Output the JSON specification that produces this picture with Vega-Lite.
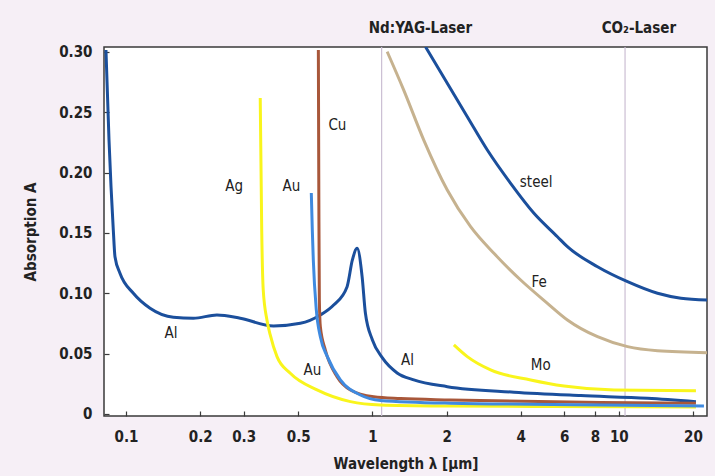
{
  "$schema": "https://vega.github.io/schema/vega-lite/v6.json",
  "width": 603,
  "height": 369,
  "autosize": {"type": "none"},
  "padding": {"left": 104, "top": 47, "right": 8, "bottom": 60},
  "background": "#f6eff6",
  "config": {
    "font": "DejaVu Sans Condensed",
    "view": {"fill": "white", "stroke": "#3a3a3a", "strokeWidth": 1.5},
    "axis": {"domain": false, "grid": false, "tickColor": "#3a3a3a", "tickWidth": 1.2, "labelColor": "#222", "titleColor": "#222", "labelFont": "DejaVu Sans Condensed", "titleFont": "DejaVu Sans Condensed"}
  },
  "datasets": {
    "curves": [
      {"s": "Al", "x": 0.0829, "y": 0.3016},
      {"s": "Al", "x": 0.0853, "y": 0.227},
      {"s": "Al", "x": 0.0888, "y": 0.1524},
      {"s": "Al", "x": 0.0902, "y": 0.1303},
      {"s": "Al", "x": 0.0945, "y": 0.1166},
      {"s": "Al", "x": 0.1071, "y": 0.1},
      {"s": "Al", "x": 0.1252, "y": 0.0876},
      {"s": "Al", "x": 0.1557, "y": 0.0801},
      {"s": "Al", "x": 0.1877, "y": 0.0793},
      {"s": "Al", "x": 0.2338, "y": 0.082},
      {"s": "Al", "x": 0.2907, "y": 0.0793},
      {"s": "Al", "x": 0.397, "y": 0.0729},
      {"s": "Al", "x": 0.5097, "y": 0.0751},
      {"s": "Al", "x": 0.6145, "y": 0.082},
      {"s": "Al", "x": 0.6961, "y": 0.0903},
      {"s": "Al", "x": 0.7893, "y": 0.1055},
      {"s": "Al", "x": 0.8292, "y": 0.1276},
      {"s": "Al", "x": 0.8667, "y": 0.1373},
      {"s": "Al", "x": 0.9082, "y": 0.1138},
      {"s": "Al", "x": 0.9367, "y": 0.0834},
      {"s": "Al", "x": 1.0, "y": 0.0613},
      {"s": "Al", "x": 1.098, "y": 0.0464},
      {"s": "Al", "x": 1.26, "y": 0.034},
      {"s": "Al", "x": 1.472, "y": 0.0282},
      {"s": "Al", "x": 2.013, "y": 0.0226},
      {"s": "Al", "x": 3.753, "y": 0.018},
      {"s": "Al", "x": 7.005, "y": 0.0152},
      {"s": "Al", "x": 13.08, "y": 0.013},
      {"s": "Al", "x": 20.56, "y": 0.0102},
      {"s": "Ag", "x": 0.3505, "y": 0.2618},
      {"s": "Ag", "x": 0.3554, "y": 0.1524},
      {"s": "Ag", "x": 0.3605, "y": 0.1027},
      {"s": "Ag", "x": 0.3732, "y": 0.0779},
      {"s": "Ag", "x": 0.3849, "y": 0.0655},
      {"s": "Ag", "x": 0.41, "y": 0.0475},
      {"s": "Ag", "x": 0.4642, "y": 0.0337},
      {"s": "Ag", "x": 0.5961, "y": 0.0199},
      {"s": "Ag", "x": 0.8143, "y": 0.0102},
      {"s": "Ag", "x": 1.078, "y": 0.0075},
      {"s": "Ag", "x": 2.075, "y": 0.0066},
      {"s": "Ag", "x": 5.29, "y": 0.0062},
      {"s": "Ag", "x": 20.56, "y": 0.0058},
      {"s": "Cu", "x": 0.6034, "y": 0.3016},
      {"s": "Cu", "x": 0.6062, "y": 0.1773},
      {"s": "Cu", "x": 0.609, "y": 0.0944},
      {"s": "Cu", "x": 0.6147, "y": 0.0723},
      {"s": "Cu", "x": 0.6441, "y": 0.053},
      {"s": "Cu", "x": 0.7185, "y": 0.0309},
      {"s": "Cu", "x": 0.8143, "y": 0.0199},
      {"s": "Cu", "x": 1.012, "y": 0.0143},
      {"s": "Cu", "x": 1.3, "y": 0.0128},
      {"s": "Cu", "x": 2.075, "y": 0.0116},
      {"s": "Cu", "x": 8.45, "y": 0.0094},
      {"s": "Cu", "x": 20.56, "y": 0.0089},
      {"s": "Au", "x": 0.5649, "y": 0.1831},
      {"s": "Au", "x": 0.5702, "y": 0.1524},
      {"s": "Au", "x": 0.5756, "y": 0.1276},
      {"s": "Au", "x": 0.592, "y": 0.0862},
      {"s": "Au", "x": 0.6147, "y": 0.064},
      {"s": "Au", "x": 0.6562, "y": 0.0475},
      {"s": "Au", "x": 0.7413, "y": 0.0282},
      {"s": "Au", "x": 0.8938, "y": 0.0157},
      {"s": "Au", "x": 1.078, "y": 0.0112},
      {"s": "Au", "x": 2.075, "y": 0.0089},
      {"s": "Au", "x": 8.45, "y": 0.0075},
      {"s": "Au", "x": 22.16, "y": 0.0066},
      {"s": "steel", "x": 1.642, "y": 0.3043},
      {"s": "steel", "x": 2.013, "y": 0.274},
      {"s": "steel", "x": 2.427, "y": 0.2463},
      {"s": "steel", "x": 2.927, "y": 0.2187},
      {"s": "steel", "x": 3.639, "y": 0.1911},
      {"s": "steel", "x": 4.525, "y": 0.1663},
      {"s": "steel", "x": 5.634, "y": 0.1469},
      {"s": "steel", "x": 6.187, "y": 0.1386},
      {"s": "steel", "x": 8.195, "y": 0.122},
      {"s": "steel", "x": 10.85, "y": 0.1096},
      {"s": "steel", "x": 14.36, "y": 0.1},
      {"s": "steel", "x": 17.87, "y": 0.0959},
      {"s": "steel", "x": 22.94, "y": 0.0944},
      {"s": "Fe", "x": 1.148, "y": 0.3002},
      {"s": "Fe", "x": 1.34, "y": 0.2684},
      {"s": "Fe", "x": 1.616, "y": 0.227},
      {"s": "Fe", "x": 2.013, "y": 0.1856},
      {"s": "Fe", "x": 2.503, "y": 0.1552},
      {"s": "Fe", "x": 3.112, "y": 0.1331},
      {"s": "Fe", "x": 3.997, "y": 0.111},
      {"s": "Fe", "x": 5.132, "y": 0.0917},
      {"s": "Fe", "x": 6.187, "y": 0.0779},
      {"s": "Fe", "x": 8.195, "y": 0.064},
      {"s": "Fe", "x": 10.85, "y": 0.0558},
      {"s": "Fe", "x": 14.36, "y": 0.0524},
      {"s": "Fe", "x": 22.94, "y": 0.0508},
      {"s": "Mo", "x": 2.141, "y": 0.0572},
      {"s": "Mo", "x": 2.427, "y": 0.0475},
      {"s": "Mo", "x": 3.017, "y": 0.0365},
      {"s": "Mo", "x": 4.389, "y": 0.0282},
      {"s": "Mo", "x": 5.993, "y": 0.0232},
      {"s": "Mo", "x": 9.571, "y": 0.0199},
      {"s": "Mo", "x": 20.56, "y": 0.0193}
    ],
    "lasers": [
      {"x": 1.09, "name": "Nd:YAG-Laser", "lx": 1.567},
      {"x": 10.6, "name": "CO₂-Laser", "lx": 12.06}
    ],
    "labels": [
      {"t": "Cu", "x": 0.7207, "y": 0.2394},
      {"t": "Ag", "x": 0.2748, "y": 0.1889},
      {"t": "Au", "x": 0.4686, "y": 0.1889},
      {"t": "Al", "x": 0.1524, "y": 0.0671},
      {"t": "Au", "x": 0.5704, "y": 0.0365},
      {"t": "Al", "x": 1.388, "y": 0.0447},
      {"t": "steel", "x": 4.62, "y": 0.192},
      {"t": "Fe", "x": 4.75, "y": 0.109},
      {"t": "Mo", "x": 4.819, "y": 0.0406}
    ]
  },
  "layer": [
    {
      "data": {"name": "lasers"},
      "mark": {"type": "rule", "color": "#cbbed3", "strokeWidth": 1.2},
      "encoding": {
        "x": {"field": "x", "type": "quantitative", "scale": {"type": "log", "domain": [0.0814, 22.8], "nice": false}}
      }
    },
    {
      "data": {"name": "lasers"},
      "mark": {"type": "text", "fontSize": 15, "fontWeight": "bold", "color": "#222", "baseline": "middle", "align": "center"},
      "encoding": {
        "x": {"field": "lx", "type": "quantitative"},
        "y": {"datum": 0.3198, "type": "quantitative"},
        "text": {"field": "name"}
      }
    },
    {
      "data": {"name": "curves"},
      "mark": {"type": "line", "clip": true, "interpolate": "monotone"},
      "encoding": {
        "x": {"field": "x", "type": "quantitative", "scale": {"type": "log", "domain": [0.0814, 22.8], "nice": false},
          "axis": {"values": [0.1, 0.2, 0.3, 0.5, 1, 2, 4, 6, 8, 10, 20], "labelExpr": "datum.value", "tickSize": -5, "labelPadding": 18, "labelFontSize": 15, "labelFontWeight": "bold", "title": "Wavelength  λ [µm]", "titleFontSize": 15, "titleFontWeight": "bold", "titlePadding": 12}},
        "y": {"field": "y", "type": "quantitative", "scale": {"domain": [-0.0017, 0.3041], "nice": false, "zero": false},
          "axis": {"values": [0, 0.05, 0.1, 0.15, 0.2, 0.25, 0.3], "labelExpr": "datum.value == 0 ? '0' : format(datum.value, '.2f')", "tickSize": -5, "labelPadding": 17, "labelFontSize": 15, "labelFontWeight": "bold", "title": "Absorption A", "titleFontSize": 15, "titleFontWeight": "bold", "titlePadding": 20}},
        "color": {"field": "s", "type": "nominal", "legend": null,
          "scale": {"domain": ["Al", "steel", "Ag", "Mo", "Cu", "Au", "Fe"], "range": ["#1b4f9c", "#1b4f9c", "#f9f51c", "#f9f51c", "#a8573a", "#3f8ae0", "#c6b28f"]}},
        "strokeWidth": {"field": "s", "type": "nominal", "legend": null,
          "scale": {"domain": ["Al", "steel", "Ag", "Mo", "Cu", "Au", "Fe"], "range": [3, 3, 2.8, 2.8, 2.6, 2.6, 2]}}
      }
    },
    {
      "data": {"name": "labels"},
      "mark": {"type": "text", "fontSize": 15, "color": "#222", "baseline": "middle", "align": "center"},
      "encoding": {
        "x": {"field": "x", "type": "quantitative"},
        "y": {"field": "y", "type": "quantitative"},
        "text": {"field": "t"}
      }
    }
  ]
}
